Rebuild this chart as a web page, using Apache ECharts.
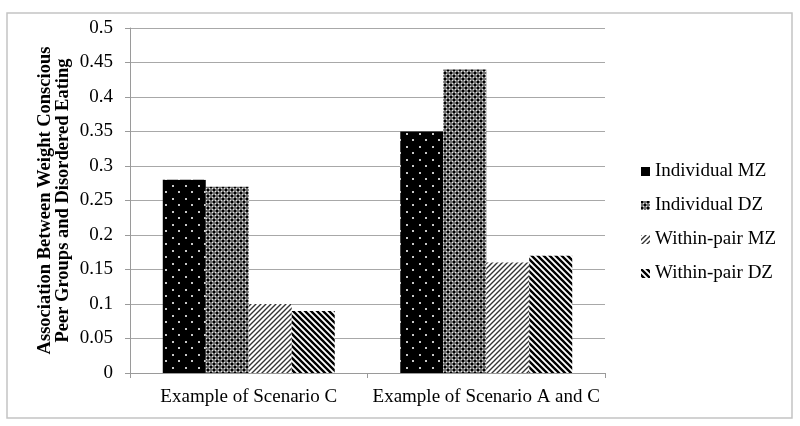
<!DOCTYPE html>
<html>
<head>
<meta charset="utf-8">
<script src="https://cdn.jsdelivr.net/npm/echarts@6/dist/echarts.min.js"></script>
<style>
  html, body { margin: 0; padding: 0; background: #fff; }
  #chart { width: 800px; height: 426px; }
</style>
</head>
<body>
<div id="chart"></div>
<script>
// data
var categories = ['Example of Scenario C', 'Example of Scenario A and C'];
var seriesNames = ['Individual MZ', 'Individual DZ', 'Within-pair MZ', 'Within-pair DZ'];
var individualMZ = [0.28, 0.35];
var individualDZ = [0.27, 0.44];
var withinPairMZ = [0.10, 0.16];
var withinPairDZ = [0.09, 0.17];
var yMin = 0, yMax = 0.5, yStep = 0.05;

var FONT = '"Liberation Serif", "Times New Roman", serif';

// fill patterns
function makePattern(size, draw) {
    var c = document.createElement('canvas');
    c.width = size;
    c.height = size;
    draw(c.getContext('2d'), size);
    return { image: c, repeat: 'repeat' };
}
var dotted = makePattern(13, function (ctx, s) {
    ctx.fillStyle = '#000';
    ctx.fillRect(0, 0, s, s);
    ctx.fillStyle = '#c8c8c8';
    ctx.fillRect(3, 3, 2, 2);
    ctx.fillRect(9, 9, 2, 2);
});
var checker = makePattern(6, function (ctx, s) {
    ctx.fillStyle = '#6e6e6e';
    ctx.fillRect(0, 0, s, s);
    ctx.fillStyle = '#000';
    ctx.fillRect(0, 0, 2, 2);
    ctx.fillRect(3, 3, 2, 2);
    ctx.fillStyle = '#e8e8e8';
    ctx.fillRect(2, 2, 1, 1);
    ctx.fillRect(5, 5, 1, 1);
    ctx.fillRect(5, 2, 1, 1);
    ctx.fillRect(2, 5, 1, 1);
});
function diagonal(size, width, color, forward) {
    return makePattern(size, function (ctx, s) {
        ctx.fillStyle = '#fff';
        ctx.fillRect(0, 0, s, s);
        ctx.strokeStyle = color;
        ctx.lineWidth = width;
        ctx.beginPath();
        for (var k = -1; k <= 1; k++) {
            if (forward) {
                ctx.moveTo(k * s - 1, s + 1);
                ctx.lineTo(k * s + s + 1, -1);
            } else {
                ctx.moveTo(k * s - 1, -1);
                ctx.lineTo(k * s + s + 1, s + 1);
            }
        }
        ctx.stroke();
    });
}
var hatchUp = diagonal(5, 1.4, '#333', true);
var hatchDown = diagonal(6, 2.4, '#000', false);

var chart = echarts.init(document.getElementById('chart'));

function bar(name, data, fill) {
    return {
        name: name,
        type: 'bar',
        data: data,
        barGap: '0%',
        barCategoryGap: '27.6%',
        itemStyle: { color: fill },
        emphasis: { disabled: true }
    };
}

var option = {
    animation: false,
    backgroundColor: '#fff',
    textStyle: { fontFamily: FONT },
    graphic: [{
        type: 'rect',
        shape: { x: 7, y: 13, width: 785, height: 405 },
        style: { fill: 'none', stroke: '#c4c4c4', lineWidth: 1.5 },
        silent: true
    }],
    grid: { left: 130, right: 195, top: 28, bottom: 53 },
    legend: {
        orient: 'vertical',
        left: 636,
        top: 157,
        icon: 'rect',
        itemWidth: 9,
        itemHeight: 9,
        itemGap: 15,
        textStyle: { fontFamily: FONT, fontSize: 19, color: '#000', lineHeight: 19 },
        data: [
            { name: seriesNames[0], itemStyle: { color: '#000' } },
            seriesNames[1],
            seriesNames[2],
            seriesNames[3]
        ]
    },
    xAxis: {
        type: 'category',
        data: categories,
        axisLine: { lineStyle: { color: '#9a9a9a', width: 1 } },
        axisTick: { show: true, length: 5, lineStyle: { color: '#9a9a9a' } },
        axisLabel: { interval: 0, fontFamily: FONT, fontSize: 19, color: '#000', margin: 15 }
    },
    yAxis: {
        type: 'value',
        min: yMin,
        max: yMax,
        interval: yStep,
        name: 'Association Between Weight Conscious\nPeer Groups and Disordered Eating',
        nameLocation: 'middle',
        nameGap: 58,
        nameMoveOverlap: false,
        nameTextStyle: { fontFamily: FONT, fontSize: 18.5, fontWeight: 'bold', color: '#000', lineHeight: 18 },
        axisLine: { show: true, lineStyle: { color: '#9a9a9a', width: 1 } },
        axisTick: { show: true, length: 5, lineStyle: { color: '#9a9a9a' } },
        axisLabel: { fontFamily: FONT, fontSize: 19, color: '#000', margin: 17 },
        splitLine: { lineStyle: { color: '#a8a8a8', width: 1 } }
    },
    series: [
        bar(seriesNames[0], individualMZ, dotted),
        bar(seriesNames[1], individualDZ, checker),
        bar(seriesNames[2], withinPairMZ, hatchUp),
        bar(seriesNames[3], withinPairDZ, hatchDown)
    ]
};
chart.setOption(option);
</script>
</body>
</html>
